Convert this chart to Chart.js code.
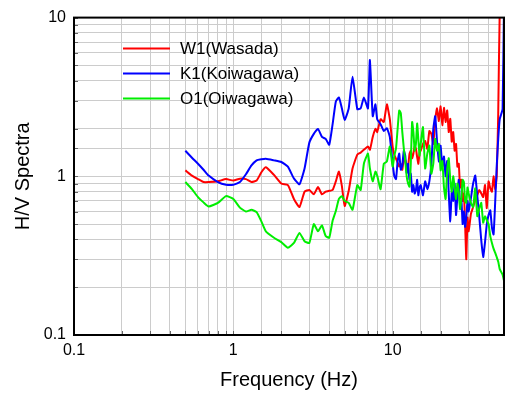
<!DOCTYPE html>
<html>
<head>
<meta charset="utf-8">
<title>H/V Spectra</title>
<script src="https://cdn.jsdelivr.net/npm/chart.js@4.4.0/dist/chart.umd.min.js"></script>
<style>
  html, body { margin: 0; padding: 0; background: #fff; }
  #wrap { width: 510px; height: 394px; }
</style>
</head>
<body>
<div id="wrap"><canvas id="hvChart" width="510" height="394"></canvas></div>
<script>
// === Data ===
const freq = [
  0.5, 0.55, 0.6, 0.65, 0.7, 0.8, 0.9, 1.0, 1.1, 1.2, 1.3, 1.4, 1.5, 1.6, 1.8, 2.0, 2.2, 2.4, 2.6, 2.8,
  3.0, 3.2, 3.4, 3.6, 3.8, 4.0, 4.2, 4.4, 4.6, 4.8,
  5.0, 5.3, 5.6, 6.0, 6.3, 6.6, 7.0, 7.2, 7.5, 7.8,
  8.0, 8.4, 8.8, 9.2, 9.6,
  10, 10.25, 10.5, 10.75, 11, 11.25, 11.5, 11.75, 12, 12.25, 12.5, 12.75, 13, 13.25, 13.5, 13.75, 14, 14.25, 14.5, 14.75, 15,
  15.5, 16, 16.5, 17, 17.5, 18, 18.5, 19, 19.5, 20,
  20.5, 21, 21.5, 22, 22.5, 23, 23.5, 24, 24.5, 25, 25.5, 26, 26.5, 27, 27.5, 28, 28.5, 29, 29.5, 30,
  31, 32, 33, 34, 35, 36, 37, 38, 39, 40, 41, 42, 43, 44, 45, 46, 47, 48, 49, 50
];

const w1Wasada = [
  1.09, 1.01, 0.96, 0.92, 0.92, 0.93, 0.96, 0.94, 0.965, 0.96, 0.92, 0.94, 1.06, 1.14, 1.02, 0.9, 0.88, 0.72, 0.64, 0.8,
  0.82, 0.77, 0.855, 0.77, 0.8, 0.81, 0.82, 0.93, 1.07, 0.87,
  0.65, 0.81, 1.12, 1.37, 1.41, 1.47, 1.54, 1.47, 1.77, 1.99,
  1.9, 2.29, 2.2, 2.84, 2.29,
  1.54, 1.36, 1.29, 1.22, 1.15, 1.2, 1.1, 1.3, 1.26, 1.12, 1.15, 1.38, 1.45, 1.3, 1.39, 1.55, 1.49, 1.32, 1.2, 1.4, 1.45,
  1.6, 1.67, 1.49, 1.93, 1.85, 1.6, 2.29, 2.68, 2.23, 2.76,
  2.1, 2.7, 2.2, 2.6, 1.9, 2.3, 1.65, 1.9, 1.45, 1.6, 1.15, 1.2, 0.85, 0.95, 0.7, 0.78, 0.5, 0.3, 0.55, 0.45,
  0.58, 0.64, 0.71, 0.76, 0.82, 0.78, 0.74, 0.88, 0.63, 0.93, 0.84, 0.8, 1.0, 0.82, 1.0, 2.5, 11, 12, 12, 12
];

const k1Koiwagawa = [
  1.45, 1.31, 1.2, 1.1, 1.01, 0.92, 0.885, 0.885, 0.92, 1.03, 1.17, 1.26, 1.28, 1.29, 1.26, 1.23, 1.15, 0.97, 0.89, 1.12,
  1.63, 1.85, 1.99, 1.77, 1.72, 1.58, 2.13, 2.96, 3.14, 2.68,
  2.26, 2.68, 4.24, 2.65, 2.68, 3.14, 2.68, 5.4, 2.39, 2.84,
  2.29, 2.13, 1.93, 2.01, 1.77,
  1.2, 1.0, 0.96, 1.25, 1.39, 1.1, 1.17, 1.45, 1.35, 1.05, 1.2, 0.95, 1.04, 0.8, 0.88, 0.78, 0.82, 0.95, 0.76, 0.85, 0.88,
  0.76, 0.93, 0.83, 0.93, 1.2, 1.99, 2.39, 1.65, 1.24, 1.56,
  1.15, 1.33, 1.0, 1.25, 0.78, 0.52, 0.8, 0.7, 0.9, 0.57, 0.75, 0.95, 0.65, 0.72, 0.5, 0.6, 0.48, 0.55, 0.7, 0.6,
  0.73, 0.9, 1.01, 0.75, 0.55, 0.395, 0.31, 0.384, 0.5, 0.57, 0.61, 0.475, 0.43, 0.68, 1.15, 1.72, 2.29, 2.46, 2.65, 12
];

const o1Oiwagawa = [
  0.92, 0.83, 0.74, 0.685, 0.645, 0.68, 0.75, 0.72, 0.635, 0.6, 0.615, 0.595, 0.52, 0.45, 0.41, 0.385, 0.355, 0.38, 0.44, 0.39,
  0.38, 0.5, 0.45, 0.49, 0.42, 0.41, 0.525, 0.605, 0.72, 0.75,
  0.7, 0.68, 0.615, 0.88, 0.82, 1.2, 1.39, 1.12, 0.93, 1.07,
  1.01, 0.83, 1.2, 1.24, 1.54,
  1.15, 1.35, 1.5, 2.0, 2.6, 2.5, 1.9, 1.5, 1.25, 1.0, 0.9, 0.86, 1.2, 2.2, 1.9, 1.45, 1.6, 2.15, 1.7, 1.35, 1.6,
  2.04, 1.12, 1.39, 1.56, 1.04, 1.2, 1.72, 1.45, 1.6, 1.09,
  1.25, 0.85, 0.72, 1.1, 1.3, 0.95, 0.8, 1.0, 0.85, 0.72, 0.9, 0.8, 0.62, 0.72, 0.95, 0.92, 0.7, 0.68, 0.85, 0.78,
  0.68, 0.64, 0.84, 0.56, 0.63, 0.68, 0.51, 0.56, 0.53, 0.5, 0.42, 0.38, 0.35, 0.33, 0.31, 0.29, 0.26, 0.25, 0.24, 0.22
];

const seriesNames = ["W1(Wasada)", "K1(Koiwagawa)", "O1(Oiwagawa)"];
const seriesColors = ["#ff0000", "#0000ff", "#00ee00"];
const xTickLabels = ["0.1", "1", "10"];
const yTickLabels = ["0.1", "1", "10"];

const FONT = "'Liberation Sans', Arial, Helvetica, sans-serif";

[w1Wasada, k1Koiwagawa, o1Oiwagawa].forEach((s, i) => {
  if (s.length !== freq.length) console.warn("length mismatch", seriesNames[i], s.length, freq.length);
});

function toPoints(vals) {
  return freq.map((f, i) => ({ x: f, y: vals[i] }));
}

// only label the decades, the other ticks just carry grid lines
function decadeLabel(labels) {
  return (value) => {
    const hit = labels.find((t) => Math.abs(parseFloat(t) - value) < 1e-9);
    return hit || "";
  };
}

// === Frame + small inward ticks ===
const framePlugin = {
  id: "frame",
  afterDatasetsDraw(chart) {
    const { ctx, chartArea: a, scales } = chart;
    ctx.save();
    ctx.strokeStyle = "#666";
    ctx.lineWidth = 1;
    ctx.beginPath();
    scales.x.ticks.forEach((t) => {
      const px = Math.round(scales.x.getPixelForValue(t.value)) + 0.5;
      ctx.moveTo(px, a.bottom);
      ctx.lineTo(px, a.bottom - 4);
    });
    scales.y.ticks.forEach((t) => {
      const py = Math.round(scales.y.getPixelForValue(t.value)) + 0.5;
      ctx.moveTo(a.left, py);
      ctx.lineTo(a.left + 4, py);
    });
    ctx.stroke();
    ctx.strokeStyle = "#000";
    ctx.lineWidth = 2;
    ctx.strokeRect(a.left, a.top, a.right - a.left, a.bottom - a.top);
    ctx.restore();
  },
};

// === Legend drawn inside the plot, upper left ===
const insideLegend = {
  id: "insideLegend",
  afterDraw(chart) {
    const { ctx, chartArea: a } = chart;
    ctx.save();
    ctx.font = "17px " + FONT;
    ctx.textBaseline = "middle";
    ctx.fillStyle = "#000";
    chart.data.datasets.forEach((ds, i) => {
      const y = a.top + 31 + i * 25;
      ctx.strokeStyle = ds.borderColor;
      ctx.lineWidth = 2;
      ctx.beginPath();
      ctx.moveTo(a.left + 49, y);
      ctx.lineTo(a.left + 96, y);
      ctx.stroke();
      ctx.fillText(ds.label, a.left + 106, y + 1);
    });
    ctx.restore();
  },
};

const ctx = document.getElementById("hvChart").getContext("2d");
new Chart(ctx, {
  type: "line",
  data: {
    datasets: [
      { label: seriesNames[0], data: toPoints(w1Wasada), borderColor: seriesColors[0], order: 3 },
      { label: seriesNames[1], data: toPoints(k1Koiwagawa), borderColor: seriesColors[1], order: 2 },
      { label: seriesNames[2], data: toPoints(o1Oiwagawa), borderColor: seriesColors[2], order: 1 },
    ],
  },
  options: {
    responsive: false,
    animation: false,
    devicePixelRatio: 1,
    layout: { padding: { left: 0, right: 5, top: 13, bottom: 0 } },
    elements: {
      line: { borderWidth: 2, tension: 0.15, fill: false },
      point: { radius: 0 },
    },
    plugins: {
      legend: { display: false },
      tooltip: { enabled: false },
    },
    scales: {
      x: {
        type: "logarithmic",
        min: 0.1,
        max: 50,
        grid: { color: "#cccccc", lineWidth: 1, drawTicks: false },
        border: { display: false },
        ticks: {
          autoSkip: false,
          maxRotation: 0,
          padding: 6,
          color: "#000",
          font: { family: FONT, size: 16 },
          callback: decadeLabel(xTickLabels),
        },
        title: {
          display: true,
          text: "Frequency (Hz)",
          color: "#000",
          font: { family: FONT, size: 20 },
          padding: { top: 0, bottom: 2 },
        },
        afterFit: (s) => { s.height = 59; },
      },
      y: {
        type: "logarithmic",
        min: 0.1,
        max: 10,
        grid: { color: "#cccccc", lineWidth: 1, drawTicks: false },
        border: { display: false },
        ticks: {
          autoSkip: false,
          padding: 8,
          color: "#000",
          font: { family: FONT, size: 16 },
          callback: decadeLabel(yTickLabels),
        },
        title: {
          display: true,
          text: "H/V Spectra",
          color: "#000",
          font: { family: FONT, size: 20 },
          padding: { top: 11, bottom: 0 },
        },
        afterFit: (s) => { s.width = 74; },
      },
    },
  },
  plugins: [framePlugin, insideLegend],
});
</script>
</body>
</html>
